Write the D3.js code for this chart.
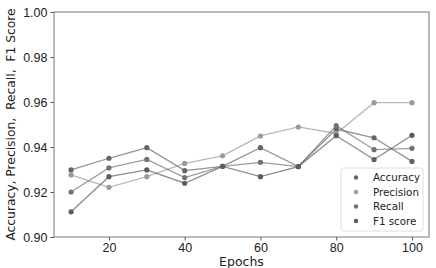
<!DOCTYPE html>
<html>
<head>
<meta charset="utf-8">
<script src="https://cdn.jsdelivr.net/npm/d3@7"></script>
<style>
  body { margin: 0; background: #fff; }
  svg { display: block; font-family: "DejaVu Sans", sans-serif; }
</style>
</head>
<body>
<svg id="chart" width="436" height="268"></svg>
<script>
const epochs = [10, 20, 30, 40, 50, 60, 70, 80, 90, 100]
const accuracy = [0.9298, 0.9350, 0.9397, 0.9295, 0.9314, 0.9397, 0.9313, 0.9480, 0.9441, 0.9336]
const precision = [0.9276, 0.9221, 0.9268, 0.9327, 0.9361, 0.9449, 0.9489, 0.9460, 0.9597, 0.9597]
const recall = [0.9200, 0.9307, 0.9345, 0.9264, 0.9314, 0.9332, 0.9313, 0.9495, 0.9388, 0.9394]
const f1 = [0.9112, 0.9268, 0.9298, 0.9239, 0.9314, 0.9268, 0.9313, 0.9450, 0.9344, 0.9452]
const seriesNames = ['Accuracy', 'Precision', 'Recall', 'F1 score']
const xTicks = [20, 40, 60, 80, 100]
const yTicks = [0.90, 0.92, 0.94, 0.96, 0.98, 1.00]

const colors = ['#646464', '#9a9a9a', '#727272', '#5c5c5c']
const series = [accuracy, precision, recall, f1].map((vals, i) => ({
  name: seriesNames[i],
  color: colors[i],
  values: vals.map((v, j) => ({ x: epochs[j], y: v }))
}))

const margin = { top: 12, right: 7, bottom: 31, left: 54 }
const width = 436, height = 268
const $svg = d3.select('#chart')

const x = d3.scaleLinear().domain([5.5, 104.5]).range([margin.left, width - margin.right])
const y = d3.scaleLinear().domain([0.90, 1.00]).range([height - margin.bottom, margin.top])

// axes
const xAxis = $svg.append('g')
  .attr('transform', `translate(0,${height - margin.bottom})`)
  .call(d3.axisBottom(x).tickValues(xTicks).tickSize(3.5).tickPadding(2.5).tickFormat(d3.format('d')))
const yAxis = $svg.append('g')
  .attr('transform', `translate(${margin.left},0)`)
  .call(d3.axisLeft(y).tickValues(yTicks).tickSize(3.5).tickPadding(3).tickFormat(d3.format('.2f')))

;[xAxis, yAxis].forEach(a => {
  a.select('.domain').remove()
  a.selectAll('line').attr('stroke', '#555')
  a.selectAll('text').attr('font-size', 12.5).attr('fill', '#222')
})

$svg.append('rect')
  .attr('x', margin.left).attr('y', margin.top)
  .attr('width', width - margin.left - margin.right)
  .attr('height', height - margin.top - margin.bottom)
  .attr('fill', 'none').attr('stroke', '#777').attr('stroke-width', 1)

const line = d3.line().x(d => x(d.x)).y(d => y(d.y))

const $g = $svg.append('g')
series.forEach(s => {
  $g.append('path')
    .datum(s.values)
    .attr('d', line)
    .attr('fill', 'none')
    .attr('stroke', s.color)
    .attr('stroke-opacity', 0.7)
    .attr('stroke-width', 1.3)
  $g.selectAll(null)
    .data(s.values)
    .enter()
    .append('circle')
    .attr('cx', d => x(d.x))
    .attr('cy', d => y(d.y))
    .attr('r', 2.6)
    .attr('fill', s.color)
})

// legend
const lgX = 341, lgY = 168
const $legend = $svg.append('g').attr('transform', `translate(${lgX},${lgY})`)
$legend.append('rect')
  .attr('width', 82).attr('height', 63)
  .attr('rx', 2)
  .attr('fill', '#fff').attr('fill-opacity', 0.85)
  .attr('stroke', '#ddd')
series.forEach((s, i) => {
  const yy = 9.5 + i * 14.5
  $legend.append('circle').attr('cx', 15).attr('cy', yy).attr('r', 2.2).attr('fill', s.color)
  $legend.append('text')
    .attr('x', 32).attr('y', yy)
    .attr('dy', '0.35em')
    .attr('font-size', 10.3)
    .attr('fill', '#222')
    .text(s.name)
})

// axis titles
$svg.append('text')
  .attr('x', (margin.left + width - margin.right) / 2)
  .attr('y', 266)
  .attr('text-anchor', 'middle')
  .attr('font-size', 12.5)
  .attr('fill', '#222')
  .text('Epochs')

$svg.append('text')
  .attr('transform', `translate(15,${(margin.top + height - margin.bottom) / 2}) rotate(-90)`)
  .attr('text-anchor', 'middle')
  .attr('font-size', 12.3)
  .attr('fill', '#222')
  .style('white-space', 'pre')
  .text('Accuracy, Precision,  Recall,  F1 Score')
</script>
</body>
</html>
